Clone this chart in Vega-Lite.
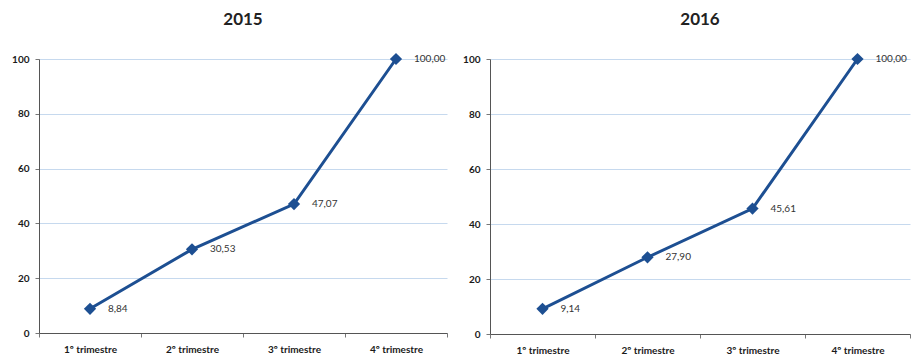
{
  "$schema": "https://vega.github.io/schema/vega-lite/v6.json",
  "padding": {"left": 11, "top": 10, "right": 2, "bottom": 0},
  "datasets": {
    "y2015": [
      {"trimestre": "1º trimestre", "valor": 8.84, "rotulo": "8,84"},
      {"trimestre": "2º trimestre", "valor": 30.53, "rotulo": "30,53"},
      {"trimestre": "3º trimestre", "valor": 47.07, "rotulo": "47,07"},
      {"trimestre": "4º trimestre", "valor": 100.0, "rotulo": "100,00"}
    ],
    "y2016": [
      {"trimestre": "1º trimestre", "valor": 9.14, "rotulo": "9,14"},
      {"trimestre": "2º trimestre", "valor": 27.9, "rotulo": "27,90"},
      {"trimestre": "3º trimestre", "valor": 45.61, "rotulo": "45,61"},
      {"trimestre": "4º trimestre", "valor": 100.0, "rotulo": "100,00"}
    ]
  },
  "config": {
    "font": "Lato",
    "view": {"stroke": null},
    "title": {"font": "Lato", "fontSize": 17, "fontWeight": "bold", "color": "#222222", "offset": 24, "anchor": "middle"},
    "axis": {
      "labelFont": "Lato",
      "labelFontWeight": "bold",
      "labelColor": "#1a1a1a",
      "domainColor": "#555555",
      "tickColor": "#777777",
      "gridColor": "#c6d9ee",
      "gridWidth": 1,
      "titleFontSize": 0
    },
    "concat": {"spacing": 14}
  },
  "hconcat": [
    {
      "title": "2015",
      "width": 408,
      "height": 274,
      "data": {"name": "y2015"},
      "encoding": {
        "x": {"field": "trimestre", "type": "nominal", "sort": null, "title": null,
          "axis": {"labelAngle": 0, "labelFontSize": 10, "labelPadding": 7, "tickBand": "extent", "tickSize": 4, "grid": false}},
        "y": {"field": "valor", "type": "quantitative", "title": null,
          "scale": {"domain": [0, 100]},
          "axis": {"values": [0, 20, 40, 60, 80, 100], "labelFontSize": 10, "tickSize": 4, "labelPadding": 6, "grid": true}}
      },
      "layer": [
        {"mark": {"type": "line", "color": "#1d4f92", "strokeWidth": 3}},
        {"mark": {"type": "point", "shape": "diamond", "filled": true, "color": "#1d4f92", "size": 150, "opacity": 1}},
        {"mark": {"type": "text", "align": "left", "dx": 18, "fontSize": 10, "color": "#333333"},
          "encoding": {"text": {"field": "rotulo"}}}
      ]
    },
    {
      "title": "2016",
      "width": 420,
      "height": 275,
      "data": {"name": "y2016"},
      "encoding": {
        "x": {"field": "trimestre", "type": "nominal", "sort": null, "title": null,
          "axis": {"labelAngle": 0, "labelFontSize": 10, "labelPadding": 7, "tickBand": "extent", "tickSize": 4, "grid": false}},
        "y": {"field": "valor", "type": "quantitative", "title": null,
          "scale": {"domain": [0, 100]},
          "axis": {"values": [0, 20, 40, 60, 80, 100], "labelFontSize": 10, "tickSize": 4, "labelPadding": 6, "grid": true}}
      },
      "layer": [
        {"mark": {"type": "line", "color": "#1d4f92", "strokeWidth": 3}},
        {"mark": {"type": "point", "shape": "diamond", "filled": true, "color": "#1d4f92", "size": 150, "opacity": 1}},
        {"mark": {"type": "text", "align": "left", "dx": 18, "fontSize": 10, "color": "#333333"},
          "encoding": {"text": {"field": "rotulo"}}}
      ]
    }
  ]
}
